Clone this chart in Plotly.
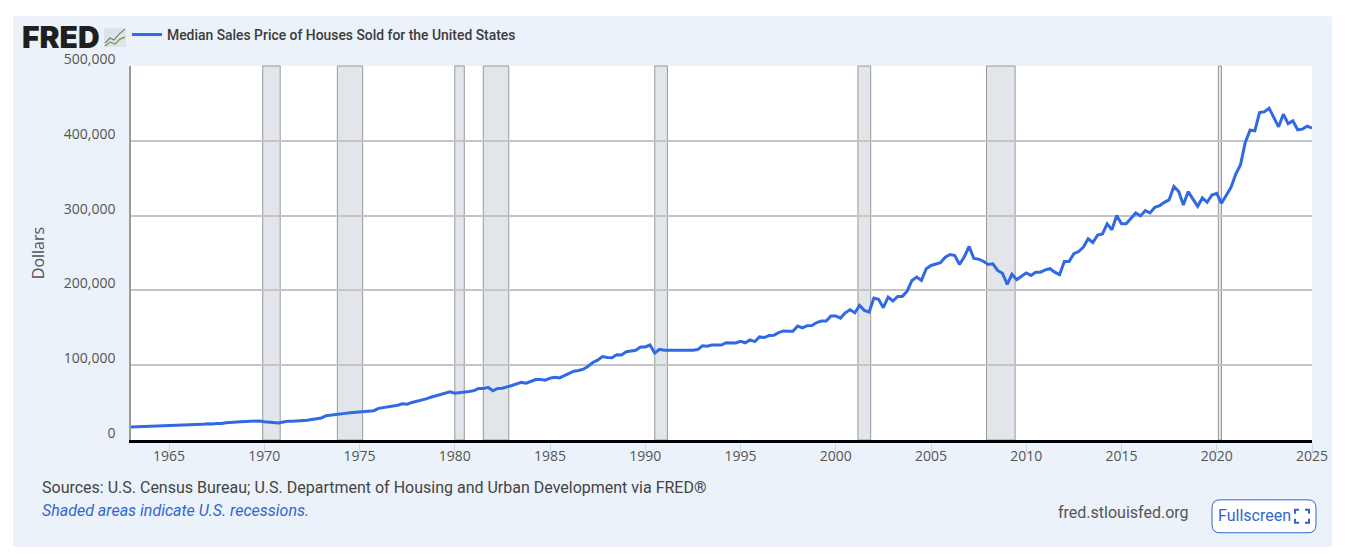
import pandas as pd
import plotly.graph_objects as go

# median sales price by quarter
prices_1960s = [17300, 17500, 17500, 17800,
                18000, 18300, 18500, 18900,
                19400, 19200, 19600, 19800,
                20500, 20400, 20300, 20900,
                21800, 21500, 22200, 22000,
                23000, 23800, 23700, 24500,
                24800, 25200, 25400, 25500]
prices_1970s = [24400, 24000, 23700, 22800,
                24000, 25200, 25000, 25300,
                25900, 26400, 27400, 28200,
                29500, 32500, 33500, 34000,
                35000, 35600, 36300, 36800,
                38000, 38400, 38700, 39200,
                42300, 43400, 43900, 44700,
                46400, 48300, 47900, 50200,
                51700, 54000, 54900, 57200,
                59200, 60700, 62200, 64300]
prices_1980s = [62500, 63000, 64000, 64800,
                66000, 68700, 68700, 70500,
                65800, 68900, 69300, 71600,
                72900, 75000, 77000, 76000,
                78700, 80900, 80900, 80000,
                82700, 84000, 83000, 86200,
                88400, 92000, 93000, 94700,
                98700, 103600, 106700, 111600,
                110200, 110000, 114000, 113800,
                118000, 119000, 120000, 124400]
prices_1990s = [124400, 127000, 116400, 121300,
                120000, 120000, 120000, 119600,
                119600, 120000, 120000, 120900,
                126000, 125300, 127000, 127000,
                127000, 130000, 130000, 129800,
                132000, 130000, 133800, 131600,
                137800, 137000, 139600, 140000,
                143600, 145800, 145300, 145300,
                152400, 149800, 152900, 153000,
                157000, 159000, 159000, 165800]
prices_2000s = [165800, 163000, 170000, 174200,
                170200, 180000, 173300, 171000,
                189800, 188000, 176900, 191000,
                185800, 192000, 192000, 199000,
                213300, 217800, 213300, 229000,
                233300, 234700, 236900, 244400,
                248000, 246700, 234700, 245000,
                258700, 242700, 241800, 239000,
                234700, 235600, 226700, 223000,
                208000, 221500, 214300, 219000]
prices_2010s = [223300, 220000, 224400, 224400,
                227500, 229000, 224400, 221000,
                238700, 238700, 249000, 252000,
                258000, 269000, 264000, 274000,
                275600, 289000, 281000, 300000,
                289000, 289000, 297000, 303600,
                299600, 306700, 303600, 311000,
                313300, 317800, 321000, 339000,
                332400, 314200, 332000, 322200,
                312400, 323600, 317800, 327600]
prices_2020s = [329800, 316400, 327600, 337800,
                355600, 368000, 397800, 414200,
                413300, 437800, 438700, 443600,
                431000, 418700, 435600, 423000,
                426700, 414700, 415600, 419600,
                416900]
prices = prices_1960s + prices_1970s + prices_1980s + prices_1990s + prices_2000s + prices_2010s + prices_2020s
quarters = pd.date_range("1963-01-01", "2025-01-01", freq="QS")

series_name = "Median Sales Price of Houses Sold for the United States"
recession_starts = ["1969-12-01", "1973-11-01", "1980-01-01", "1981-07-01", "1990-07-01", "2001-03-01", "2007-12-01", "2020-02-01"]
recession_ends = ["1970-11-01", "1975-03-01", "1980-07-01", "1982-11-01", "1991-03-01", "2001-11-01", "2009-06-01", "2020-04-01"]

# page body keeps its 8px margin, so the figure sits at (8,8)
W, H = 1330, 540
L, R, T, B = 123, 26, 57, 108
FONT = "Roboto"
AXIS_FONT = "Open Sans"

def px(x):
    return (x - 8 - L) / (W - L - R)

def py(y):
    return 1 - (y - 8 - T) / (H - T - B)

def rect_path(points):
    return "M " + " L ".join(f"{px(a)} {py(b)}" for a, b in points)

def round_rect(x0, y0, x1, y1, r):
    return (f"M {px(x0 + r)} {py(y0)} L {px(x1 - r)} {py(y0)} Q {px(x1)} {py(y0)} {px(x1)} {py(y0 + r)} "
            f"L {px(x1)} {py(y1 - r)} Q {px(x1)} {py(y1)} {px(x1 - r)} {py(y1)} "
            f"L {px(x0 + r)} {py(y1)} Q {px(x0)} {py(y1)} {px(x0)} {py(y1 - r)} "
            f"L {px(x0)} {py(y0 + r)} Q {px(x0)} {py(y0)} {px(x0 + r)} {py(y0)} Z")

fig = go.Figure()
fig.add_trace(go.Scatter(x=quarters, y=prices, mode="lines", name=series_name,
                         line=dict(color="#3069e3", width=3), showlegend=True))

# panel behind everything
fig.add_shape(type="rect", xref="paper", yref="paper", layer="below",
              x0=px(13), x1=px(1332), y0=py(547), y1=py(15),
              fillcolor="#ebf2fa", line_width=0)
fig.add_shape(type="rect", xref="paper", yref="paper", layer="below",
              x0=0, x1=1, y0=0, y1=1, fillcolor="white", line_width=0)

for start, end in zip(recession_starts, recession_ends):
    fig.add_shape(type="rect", xref="x", yref="paper", layer="below",
                  x0=start, x1=end, y0=0, y1=1,
                  fillcolor="#e2e5ea", line=dict(color="#999999", width=1))

# logo
fig.add_annotation(xref="paper", yref="paper", x=px(20), y=py(36), text="FRED", showarrow=False,
                   xanchor="left", yanchor="middle", font=dict(family="Inter", size=30, color="#1f1f1f", weight=900))
fig.add_shape(type="rect", xref="paper", yref="paper", x0=px(104), x1=px(126), y0=py(46), y1=py(27),
              fillcolor="#dfe3e6", line_width=0)
fig.add_shape(type="path", xref="paper", yref="paper",
              path=rect_path([(105, 42), (110, 37), (114, 39), (119, 33), (125, 28)]),
              line=dict(color="#6f7d8a", width=1.2))
fig.add_shape(type="path", xref="paper", yref="paper",
              path=rect_path([(105, 45), (110, 41), (115, 43), (120, 38), (125, 36)]),
              line=dict(color="#649a3c", width=1.2))

fig.add_annotation(xref="paper", yref="paper", x=px(40), y=py(488),
                   text="Sources: U.S. Census Bureau; U.S. Department of Housing and Urban Development via FRED®",
                   showarrow=False, xanchor="left", yanchor="middle", font=dict(family=FONT, size=16, color="#444444"))
fig.add_annotation(xref="paper", yref="paper", x=px(40), y=py(511),
                   text="<i>Shaded areas indicate U.S. recessions.</i>",
                   showarrow=False, xanchor="left", yanchor="middle", font=dict(family=FONT, size=16, color="#3366cc"))
fig.add_annotation(xref="paper", yref="paper", x=px(1056), y=py(513), text="fred.stlouisfed.org",
                   showarrow=False, xanchor="left", yanchor="middle", font=dict(family=FONT, size=16, color="#555555"))

# fullscreen button
fig.add_shape(type="path", xref="paper", yref="paper", path=round_rect(1212, 500, 1316, 533, 8),
              fillcolor="white", line=dict(color="#3366cc", width=1))
fig.add_annotation(xref="paper", yref="paper", x=px(1216), y=py(516), text="Fullscreen",
                   showarrow=False, xanchor="left", yanchor="middle", font=dict(family=FONT, size=16, color="#3366cc"))
for corner in ([(1295, 514), (1295, 510), (1299, 510)], [(1305, 510), (1309, 510), (1309, 514)],
               [(1295, 519), (1295, 523), (1299, 523)], [(1305, 523), (1309, 523), (1309, 519)]):
    fig.add_shape(type="path", xref="paper", yref="paper", path=rect_path(corner),
                  line=dict(color="#3366cc", width=2))

fig.update_layout(
    width=W, height=H, autosize=False,
    margin=dict(l=L, r=R, t=T, b=B, pad=0),
    paper_bgcolor="rgba(0,0,0,0)", plot_bgcolor="rgba(0,0,0,0)",
    font=dict(family=FONT, color="#555555", size=14),
    legend=dict(x=px(127), y=py(35), xanchor="left", yanchor="middle", orientation="h",
                bgcolor="rgba(0,0,0,0)", itemwidth=30,
                font=dict(family=FONT, size=13.9, color="#3c3c3c", weight=500)),
    hovermode="x unified",
)
fig.update_xaxes(
    range=["1963-01-01", "2025-01-01"], tick0="1965-01-01", dtick="M60", tickformat="%Y",
    showgrid=False, zeroline=False, showline=True, linecolor="black", linewidth=3, automargin=False,
    ticks="outside", ticklen=10, tickcolor="#c9d6ea", tickwidth=1, ticklabelstandoff=-9,
    tickfont=dict(family=AXIS_FONT, size=14, color="#555555"),
)
fig.update_yaxes(
    range=[0, 500000], dtick=100000, tickformat=",",
    title=dict(text="Dollars", font=dict(family=AXIS_FONT, size=16, color="#555555"), standoff=15),
    showgrid=True, gridcolor="#c4c4c4", gridwidth=2, zeroline=False,
    showline=True, linecolor="#999999", linewidth=1.5, ticks="", ticklabelstandoff=11, ticklabelshift=-7,
    tickfont=dict(family=AXIS_FONT, size=14, color="#555555"),
)

fig.write_html("out.html")
